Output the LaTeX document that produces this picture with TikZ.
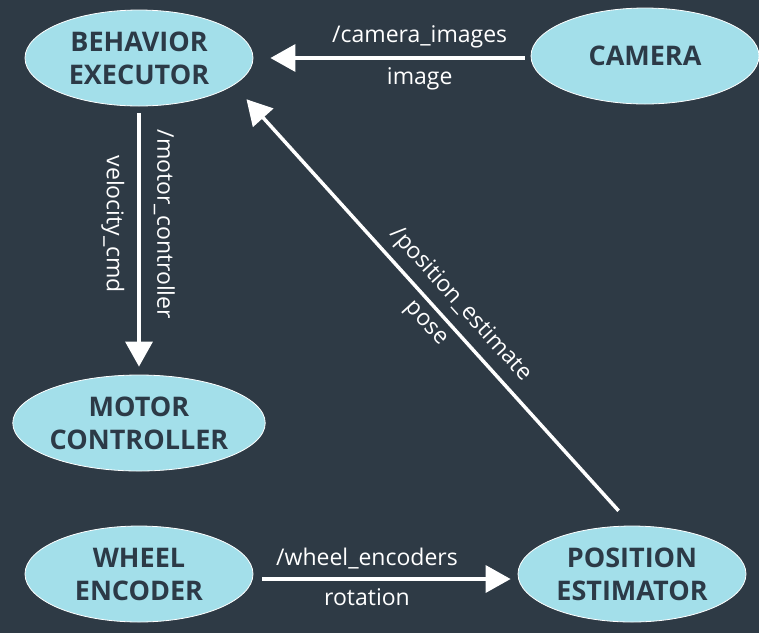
\documentclass[tikz,border=0pt]{standalone}
\usepackage{fontspec}
\setmainfont{Open Sans}
\usetikzlibrary{shapes.geometric,arrows.meta}
\definecolor{board}{HTML}{2E3A45}
\definecolor{nodefill}{HTML}{A3DFEA}
\definecolor{nodetext}{HTML}{2C3A47}
\tikzset{
 rosnode/.style={ellipse, draw=white, line width=0.8pt, fill=nodefill, text=nodetext,
  minimum width=228pt, minimum height=96pt, inner sep=0pt, align=center,
  font=\fontsize{27}{33}\selectfont\bfseries},
 topic/.style={draw=white, line width=3.5pt, -{Triangle[length=25pt,width=27pt]}},
 lbl/.style={text=white, inner ysep=8pt, font=\fontsize{23}{27}\selectfont},
}
\begin{document}
\begin{tikzpicture}[x=1pt,y=-1pt]
 \fill[board] (0,0) rectangle (759,633);
 \useasboundingbox (0,0) rectangle (759,633);

 % nodes
 \node[rosnode] (beh) at (139,58) {BEHAVIOR\\EXECUTOR};
 \node[rosnode] (cam) at (645,56) {CAMERA};
 \node[rosnode] (mot) at (139,423) {MOTOR\\CONTROLLER};
 \node[rosnode] (whe) at (139,574) {WHEEL\\ENCODER};
 \node[rosnode] (est) at (632,574) {POSITION\\ESTIMATOR};

 % topics
 \draw[topic, shorten <=6pt, shorten >=17pt] (cam.west |- beh) -- (beh)
  node[lbl, above, pos=0.4] {/camera\_images}
  node[lbl, below, pos=0.4] {image};
 \draw[topic, shorten <=7pt, shorten >=8pt] (beh.south) -- (mot.north)
  node[lbl, inner ysep=13pt, rotate=-90, anchor=south, pos=0.44] {/motor\_controller}
  node[lbl, inner ysep=13pt, rotate=-90, anchor=north, pos=0.44] {velocity\_cmd};
 \draw[topic, shorten <=9pt, shorten >=7pt] ([yshift=-5pt]whe.east) -- ([yshift=-5pt]est.west)
  node[lbl, above, pos=0.43] {/wheel\_encoders}
  node[lbl, below, pos=0.43] {rotation};
 \draw[topic, shorten <=20pt, shorten >=19pt] (est.north) -- (beh.-16)
  node[lbl, sloped, above, pos=0.47] {/position\_estimate}
  node[lbl, sloped, below, pos=0.485] {pose};
\end{tikzpicture}
\end{document}
